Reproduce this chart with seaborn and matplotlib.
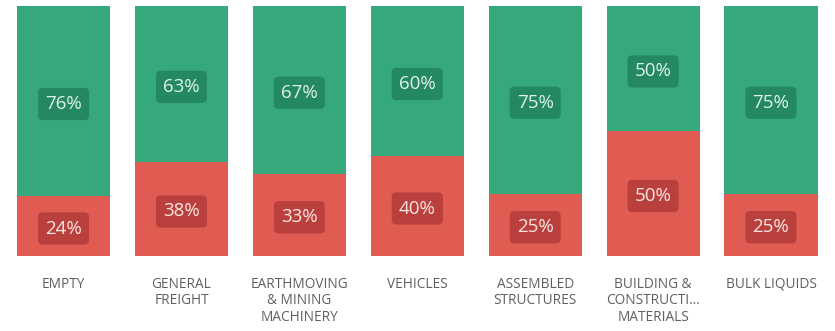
import matplotlib
matplotlib.use("Agg")
import matplotlib.pyplot as plt
import seaborn as sns
import pandas as pd
import numpy as np

categories = ["EMPTY", "GENERAL\nFREIGHT", "EARTHMOVING\n& MINING\nMACHINERY", "VEHICLES",
              "ASSEMBLED\nSTRUCTURES", "BUILDING &\nCONSTRUCTI\u2026\nMATERIALS", "BULK LIQUIDS"]
green_pct = [76, 63, 67, 60, 75, 50, 75]
red_pct = [24, 38, 33, 40, 25, 50, 25]

GREEN = "#35a97c"
RED = "#e05b52"
GREEN_BOX = "#23855d"
RED_BOX = "#b53d3a"

sns.set_theme(style="white")
plt.rcParams["font.family"] = ["Open Sans", "DejaVu Sans"]

totals = np.array(green_pct) + np.array(red_pct)
red_share = np.array(red_pct) / totals * 100
df = pd.DataFrame({"cat": categories, "total": 100.0, "red": red_share})

fig = plt.figure(figsize=(8.35, 3.31), dpi=100)
ax = fig.add_axes([0, 75 / 331, 1, 250 / 331])

sns.barplot(data=df, x="cat", y="total", color=GREEN, width=0.79, saturation=1,
            linewidth=0, ax=ax)
sns.barplot(data=df, x="cat", y="red", color=RED, width=0.79, saturation=1,
            linewidth=0, ax=ax)

box = "round,pad=0.38,rounding_size=0.25"
for i, (g, r, rs) in enumerate(zip(green_pct, red_pct, red_share)):
    ax.text(i, rs + (100 - rs) / 2 - 1.2, f"{g}%", ha="center", va="center", color="#dff3e8",
            fontsize=13.5, bbox=dict(boxstyle=box, fc=GREEN_BOX, ec="none", alpha=0.9))
    ax.text(i, rs / 2 - 1.0, f"{r}%", ha="center", va="center", color="#fbe6e3",
            fontsize=13.5, bbox=dict(boxstyle=box, fc=RED_BOX, ec="none", alpha=0.9))

ax.set_xlim(-0.539, 6.543)
ax.set_ylim(0, 100)
ax.set_yticks([])
ax.set_xlabel("")
ax.set_ylabel("")
ax.tick_params(axis="x", length=0, pad=15, labelsize=9.8, labelcolor="#5f5f5f")
for lbl in ax.get_xticklabels():
    lbl.set_linespacing(1.15)
    lbl.set_va("top")
for s in ax.spines.values():
    s.set_visible(False)

fig.savefig("out.png", dpi=100)
